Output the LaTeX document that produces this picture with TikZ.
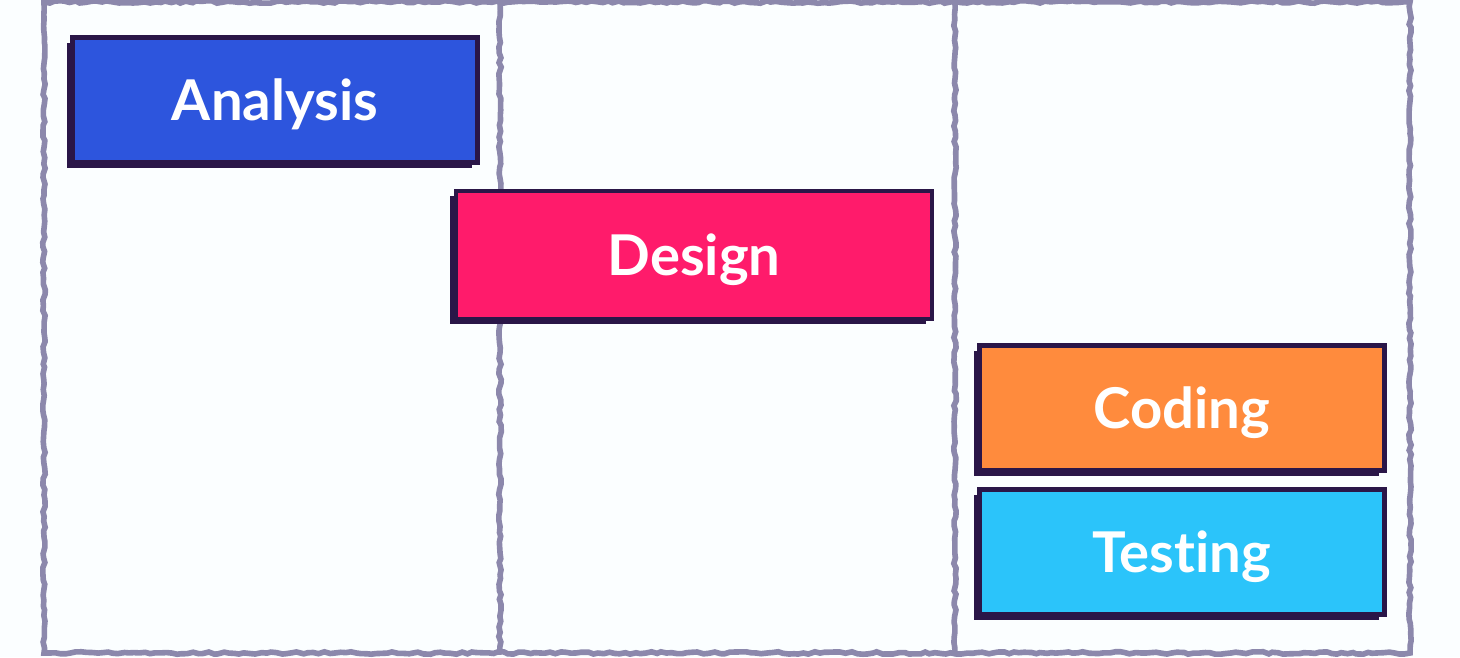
\documentclass[tikz,border=0pt]{standalone}
\usepackage{fontspec}
\setmainfont[Ligatures=NoCommon]{Lato}
\usetikzlibrary{decorations.pathmorphing}
\definecolor{ink}{HTML}{2A1648}
\definecolor{frame}{HTML}{8C88AC}
\definecolor{paper}{HTML}{FBFEFF}
\definecolor{analysisblue}{HTML}{2D55DD}
\definecolor{designpink}{HTML}{FF1B6B}
\definecolor{codingorange}{HTML}{FF8B3D}
\definecolor{testingcyan}{HTML}{2BC4FA}
\tikzset{
  lane/.style={draw=frame, line width=1.6pt, decorate,
    decoration={random steps, segment length=1.5pt, amplitude=0.35pt}},
  phase/.style={draw=ink, line width=1.3pt, minimum width=4.05cm, minimum height=1.25cm,
    text=white, font=\bfseries\fontsize{16}{18}\selectfont,
    text height=0.4cm, text depth=0pt,
    preaction={fill=ink, transform canvas={shift={(-0.06,-0.05)}}}}
}
\begin{document}
\begin{tikzpicture}
  \useasboundingbox[fill=paper] (0,0) rectangle (14.6,6.57);

  % lanes
  \draw[lane] (0.44,0.04) rectangle (14.10,6.55);
  \draw[lane] (5.00,0.04) -- (5.00,6.55);
  \draw[lane] (9.55,0.04) -- (9.55,6.55);

  % phases
  \node[phase, fill=analysisblue] (analysis) at (2.75,5.57) {Analysis};
  \node[phase, fill=designpink, minimum width=4.76cm, minimum height=1.28cm] (design) at (6.94,4.02) {Design};
  \node[phase, fill=codingorange] (coding) at (11.82,2.49) {Coding};
  \node[phase, fill=testingcyan] (testing) at (11.82,1.05) {Testing};
\end{tikzpicture}
\end{document}
